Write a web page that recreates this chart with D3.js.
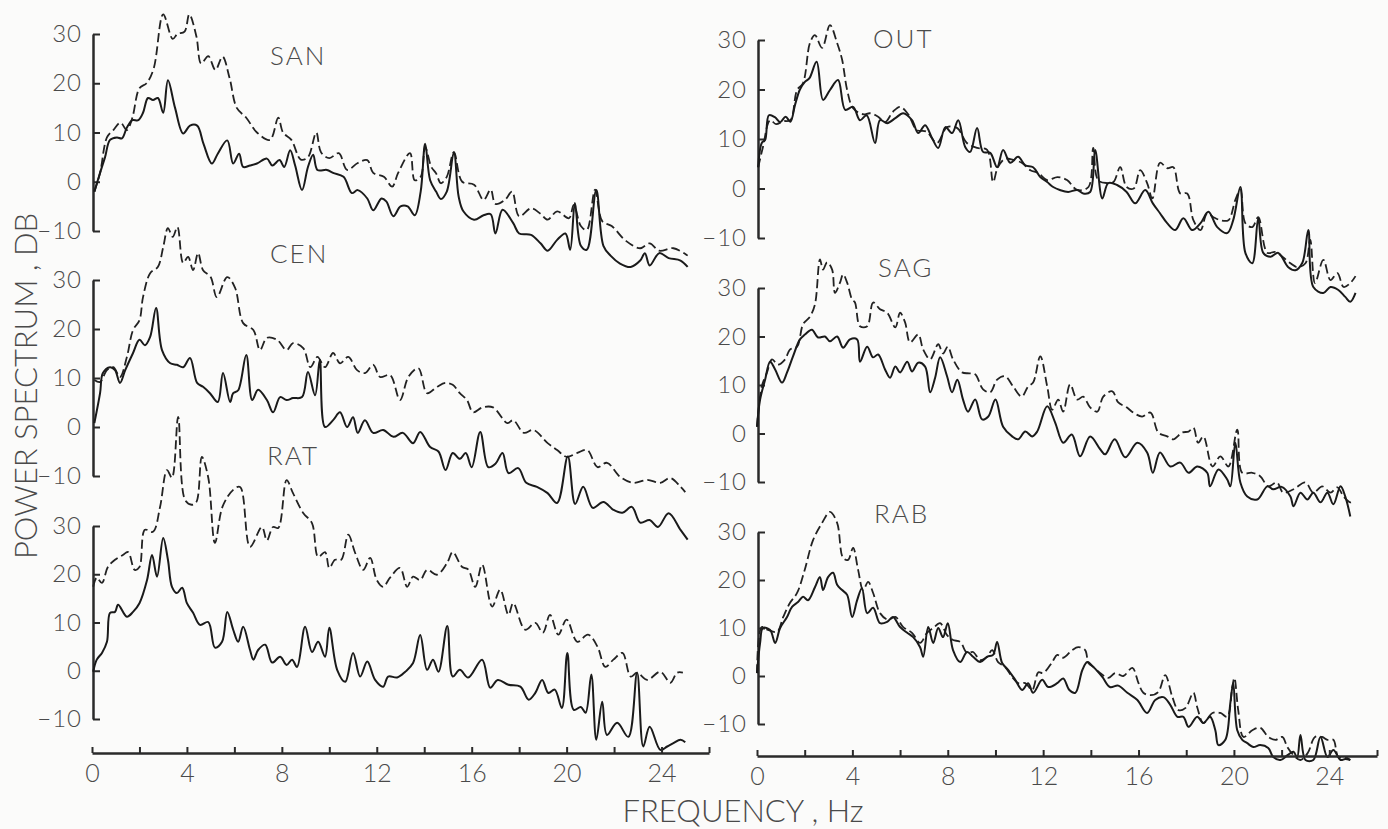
<!DOCTYPE html>
<html>
<head>
<meta charset="utf-8">
<script src="https://cdn.jsdelivr.net/npm/d3@7"></script>
<style>
body { margin: 0; background: #fbfbfa; }
svg text { font-family: Lato, "DejaVu Sans", sans-serif; font-weight: 300; fill: #4a4a4a; }
</style>
</head>
<body>
<svg width="1388" height="829"></svg>
<script>
// [frequency Hz, power dB]; solid = one condition, dashed = the other
var sanSolid = [[0.1,-2],[0.34,1.8],[0.55,5],[0.76,8.5],[1.05,9],[1.26,8.8],[1.47,11],[1.7,12.5],[1.95,12.5],[2.15,14],[2.36,17],[2.57,16.6],[2.78,17],[3.0,14],[3.2,20.6],[3.5,15],[3.84,9.8],[4.13,11.4],[4.43,11.4],[4.7,7.7],[5.05,3.7],[5.3,5.7],[5.7,8.4],[5.95,3.7],[6.2,5.7],[6.37,3],[6.66,3.3],[6.95,3.7],[7.37,4.7],[7.6,3.3],[7.9,4.4],[8.1,3],[8.35,6.4],[8.56,3.3],[8.85,-1.7],[9.1,3],[9.32,5.5],[9.5,2.4],[9.9,2.4],[10.16,1.8],[10.6,1],[10.95,-2.3],[11.2,-1.7],[11.6,-3.4],[11.85,-5.8],[12.2,-3.4],[12.4,-4],[12.7,-7],[13.0,-5],[13.3,-5],[13.6,-6.8],[13.85,-2],[14.04,7.7],[14.25,0.3],[14.5,-2],[14.7,-3.5],[14.95,-2],[15.25,6],[15.45,-3],[15.65,-6],[16.1,-7.7],[16.5,-6.8],[16.8,-6.6],[17.0,-10.5],[17.3,-5.7],[17.75,-8.4],[18.0,-10.5],[18.5,-10.8],[18.9,-12.5],[19.2,-14],[19.6,-11.8],[19.95,-10.5],[20.15,-13.8],[20.35,-4.3],[20.6,-13],[20.85,-13.8],[21.25,-1.7],[21.55,-13],[21.85,-15],[22.25,-16.6],[22.7,-17.3],[23.1,-16],[23.3,-14.5],[23.5,-17],[23.9,-14.5],[24.3,-15.5],[24.8,-16],[25.1,-17.3]];
var sanDash = [[0.1,-2],[0.34,1.8],[0.63,9],[0.9,10.5],[1.2,12],[1.47,10.5],[1.7,13],[2.0,19],[2.3,20],[2.6,23],[3.0,34],[3.4,29],[3.6,30],[3.9,30.5],[4.1,34],[4.4,29.5],[4.6,24],[4.9,25.5],[5.2,22.7],[5.5,25.4],[5.8,21],[6.1,15],[6.5,13],[6.95,10],[7.5,8.5],[7.85,13],[8.05,10],[8.4,8.5],[8.8,4.5],[9.1,5],[9.45,10],[9.65,6],[10.0,4.8],[10.4,5.8],[10.75,2.4],[11.2,3.8],[11.6,4.4],[11.85,1.8],[12.3,1],[12.65,-1],[12.9,1.8],[13.4,5.8],[13.6,0.3],[13.85,1],[14.04,7],[14.3,3],[14.5,1.7],[14.7,-0.3],[14.95,1],[15.25,6],[15.6,0],[16.1,-0.6],[16.5,-3.7],[16.8,-1.6],[17.0,-4.5],[17.4,-3.7],[17.7,-2],[18.0,-7],[18.5,-5.4],[18.9,-6.5],[19.2,-7.7],[19.6,-6],[20.1,-7.4],[20.3,-4.7],[20.6,-9],[20.85,-9.8],[21.2,-1.6],[21.5,-8],[21.9,-9],[22.5,-12],[23.1,-13.5],[23.5,-12.5],[23.9,-14],[24.5,-13.5],[25.1,-15]];

var cenSolid = [[0.1,0.8],[0.34,6.9],[0.46,11],[0.76,12.2],[0.97,11.6],[1.18,9],[1.4,11.6],[1.73,15.1],[2.0,17.8],[2.23,16.7],[2.45,18.4],[2.7,24.3],[2.95,15.7],[3.3,13],[3.58,12.7],[3.84,12.2],[4.13,14.1],[4.43,9],[4.68,8.2],[4.97,6.9],[5.3,5.1],[5.52,11],[5.82,5.1],[5.95,6.9],[6.16,7.5],[6.5,14.7],[6.75,5.5],[7.0,7.6],[7.37,5.5],[7.63,3],[7.93,6.1],[8.2,5.5],[8.47,5.9],[8.85,6.1],[9.1,11.2],[9.4,6.5],[9.6,13.7],[9.82,0],[10.16,1.4],[10.45,3],[10.75,0],[11.0,2],[11.2,-1.2],[11.5,1.4],[11.85,-1.2],[12.27,-0.6],[12.7,-2],[13.1,-1.2],[13.53,-3.3],[13.83,-1],[14.25,-4.1],[14.6,-5],[14.9,-8.8],[15.2,-5.3],[15.5,-6.5],[15.75,-5.3],[16.0,-8.2],[16.36,-1],[16.7,-8.2],[17.0,-7.5],[17.3,-5.3],[17.55,-9.4],[17.96,-8.4],[18.3,-11.4],[18.75,-12.2],[19.2,-13.5],[19.6,-15.5],[20.05,-6],[20.36,-15.7],[20.7,-12.2],[21.1,-16.5],[21.55,-15.3],[21.97,-16.9],[22.35,-17.5],[22.75,-16.3],[23.1,-19.5],[23.5,-19],[23.85,-20.4],[24.3,-17.6],[24.8,-21],[25.1,-23]];
var cenDash = [[0.1,9.6],[0.34,9.2],[0.63,11.6],[0.9,12.2],[1.18,10.2],[1.47,14.3],[1.73,19.8],[2.0,21.8],[2.15,26.5],[2.45,31.4],[2.78,32.7],[3.0,36.7],[3.2,40.6],[3.4,38.8],[3.6,40.8],[3.84,33.5],[4.05,34.7],[4.26,32],[4.47,35.5],[4.68,32],[5.0,30.6],[5.26,26.5],[5.7,30.6],[6.03,28.4],[6.37,21.2],[6.8,19.8],[7.08,15.7],[7.37,18.2],[7.8,17.8],[8.2,15.7],[8.47,17.1],[8.9,16.1],[9.2,12.2],[9.5,14.3],[9.82,12.2],[10.16,15.1],[10.45,13],[10.8,14.3],[11.17,11.6],[11.5,11],[11.85,12.7],[12.14,10.2],[12.56,10.6],[12.98,5.5],[13.33,10.2],[13.75,12],[14.12,6.9],[14.54,8.2],[14.9,9],[15.2,8.6],[15.5,6.9],[15.8,5.5],[16.06,3],[16.45,4],[16.9,4],[17.5,0.8],[17.75,1.4],[18.2,-1.2],[18.6,-0.6],[19.2,-3.3],[19.6,-4.7],[20.0,-6.1],[20.45,-5.3],[20.87,-4.7],[21.3,-8.2],[21.7,-7.3],[22.26,-10.2],[22.8,-11.4],[23.4,-10.8],[23.95,-11.4],[24.37,-10.4],[24.8,-12.2],[25.0,-13.3]];

var ratSolid = [[0.05,-0.2],[0.2,2.3],[0.42,3.7],[0.63,6],[0.76,12],[0.97,12.2],[1.1,13.7],[1.47,11.2],[1.73,12.2],[2.0,14],[2.32,18.8],[2.53,24],[2.74,19.5],[3.0,27.5],[3.2,23],[3.37,17.4],[3.58,16.1],[3.8,17.2],[4.0,14],[4.26,12],[4.55,9.5],[4.9,10.1],[5.18,4.8],[5.48,6],[5.7,12.2],[5.95,8.5],[6.16,6],[6.37,9.1],[6.66,4.3],[6.8,2.3],[7.0,4.3],[7.3,5.4],[7.59,1.7],[7.93,2.9],[8.2,1.2],[8.43,2.3],[8.64,0.8],[8.98,9.1],[9.27,3.9],[9.53,6],[9.82,2.9],[10.0,8.9],[10.33,0.2],[10.67,-2.3],[11.0,3.7],[11.3,-1.2],[11.6,1.9],[11.93,-1.9],[12.27,-3.3],[12.48,-1.2],[12.86,-1.4],[13.2,-0.2],[13.53,1.6],[13.83,7.4],[14.12,0.2],[14.37,2.3],[14.6,-0.2],[14.97,9.3],[15.2,-1.2],[15.5,0.2],[15.85,-1.4],[16.44,2.3],[16.78,-3.5],[17.1,-1.9],[17.55,-2.9],[18.05,-3.3],[18.4,-6],[18.68,-4.6],[18.97,-1.9],[19.23,-4.6],[19.5,-3.9],[19.8,-7.7],[20.03,3.7],[20.3,-8.1],[20.6,-7.5],[20.8,-8.7],[21.04,-0.8],[21.25,-14.3],[21.5,-6.4],[21.7,-13.3],[22.13,-10.8],[22.6,-13.7],[22.97,-0.4],[23.23,-15.7],[23.5,-11.6],[23.95,-16.4],[24.24,-15.7],[24.5,-15],[24.8,-14.3],[25.0,-14.8]];
var ratDash = [[0.05,17.4],[0.2,19.3],[0.42,18.2],[0.67,21.5],[0.97,23],[1.3,24],[1.52,24.6],[1.8,20.9],[2.0,21.5],[2.23,29.2],[2.57,28.8],[2.87,34],[3.16,41.6],[3.37,40],[3.63,52.6],[3.92,35.4],[4.2,34.4],[4.4,35],[4.63,44.3],[4.9,40],[5.18,26.5],[5.5,34],[5.95,37.5],[6.24,38.1],[6.66,25.7],[7.16,29.8],[7.37,27],[7.63,29.8],[7.85,29.6],[8.2,39.5],[8.47,36.8],[8.9,32.7],[9.27,30.6],[9.53,23.6],[9.82,24.6],[10.0,21.3],[10.24,23],[10.5,23],[10.8,28.2],[11.09,24.4],[11.43,20.9],[11.72,23.4],[12.0,18.8],[12.27,17.4],[12.56,19.3],[12.98,21.3],[13.28,17.4],[13.53,19.5],[13.83,18.8],[14.12,20.9],[14.54,19.9],[14.97,22.4],[15.2,24.6],[15.6,21.5],[15.85,21],[16.15,17.4],[16.44,22],[16.86,13.3],[17.2,16.8],[17.55,11.6],[17.75,14],[18.25,8.5],[18.68,9.9],[19.0,7.9],[19.3,11.6],[19.65,7.5],[20.0,10.6],[20.45,6],[20.9,7.5],[21.3,5],[21.63,0.8],[21.97,2.3],[22.35,3.7],[22.7,-1.2],[22.97,-0.4],[23.4,-1.9],[23.95,-0.2],[24.37,-2.5],[24.66,-0.4],[24.9,-0.4]];

var outSolid = [[0.05,4.3],[0.2,9.2],[0.34,9.8],[0.5,14.8],[0.75,14.4],[0.97,13.4],[1.2,14.5],[1.4,13.5],[1.6,17],[1.8,20],[2.0,21.5],[2.2,22.3],[2.5,25.6],[2.77,17.9],[3.06,19.9],[3.4,21.9],[3.7,15.9],[4.03,16.5],[4.32,13.8],[4.6,14.8],[4.95,9.2],[5.16,13.8],[5.46,13.2],[5.8,14.2],[6.13,15.2],[6.5,13.8],[6.76,11.2],[7.05,12.8],[7.34,10.2],[7.6,8.2],[7.9,12.4],[8.18,11.2],[8.44,13.8],[8.73,8.4],[8.94,7.4],[9.23,12.2],[9.48,7.4],[9.78,7.2],[10.07,4.3],[10.32,7.8],[10.62,5.2],[10.95,6.4],[11.25,4.7],[11.58,4.3],[11.88,2.3],[12.17,1.3],[12.42,0.3],[12.7,-0.3],[13.05,-0.7],[13.43,-0.3],[13.68,-1],[13.97,-0.7],[14.18,7.8],[14.48,-2],[14.73,1.1],[15.1,0.7],[15.5,-0.7],[15.86,-3],[16.28,-0.3],[16.6,-3],[16.9,-5],[17.2,-7],[17.54,-8.4],[17.88,-6],[18.25,-8.4],[18.6,-7],[18.93,-4.7],[19.3,-7.8],[19.72,-9],[19.97,-6.4],[20.27,0.3],[20.48,-13],[20.77,-15.1],[21.02,-6],[21.23,-13],[21.53,-13.8],[21.86,-13],[22.28,-15.9],[22.58,-16.5],[22.87,-15],[23.12,-8.4],[23.33,-19.9],[23.75,-21.1],[24.05,-19.9],[24.38,-20.5],[24.67,-21.9],[24.88,-22.9],[25.1,-21.1]];
var outDash = [[0.05,4.3],[0.25,8.4],[0.55,13.8],[0.8,13],[1.1,13.6],[1.4,13.8],[1.68,19.9],[1.93,21.3],[2.22,29.4],[2.43,31],[2.73,28.4],[3.06,33],[3.36,29.4],[3.57,26],[3.78,19.9],[4.03,16.2],[4.45,15],[4.74,15.2],[5.08,14.5],[5.37,13.4],[5.7,15.5],[6.0,16.5],[6.34,15],[6.7,11.8],[7.1,11.5],[7.55,9.2],[7.97,12.4],[8.4,12.2],[8.8,9.2],[9.23,8.2],[9.65,7.8],[9.9,1.3],[10.1,4.3],[10.4,6],[10.74,5.8],[11.1,5.2],[11.46,3.7],[11.8,3.1],[12.17,1.7],[12.6,2.3],[13.0,1.7],[13.43,-0.3],[13.9,0.3],[14.1,8.2],[14.3,1.7],[14.68,1.1],[14.95,1.3],[15.23,4.3],[15.5,0.3],[15.8,0],[16.07,3.7],[16.36,1.1],[16.58,-2],[16.9,5.2],[17.2,4.1],[17.46,4.3],[17.75,-1],[18.04,-1],[18.3,-6.4],[18.6,-8.4],[18.88,-5],[19.14,-5.8],[19.43,-6.4],[19.77,-6.4],[20.06,-2.3],[20.27,-0.3],[20.48,-7],[20.77,-7.8],[21.02,-5.8],[21.4,-13],[21.74,-12.8],[22.03,-13.8],[22.37,-15.1],[22.66,-15.9],[23.0,-15.1],[23.2,-10.4],[23.4,-19.1],[23.75,-14.4],[24.05,-18.5],[24.34,-17.1],[24.6,-19.9],[24.88,-19.1],[25.1,-17.7]];

var sagSolid = [[0,1.4],[0.13,7],[0.34,11.1],[0.55,14.8],[0.76,13.2],[1.05,10.5],[1.26,12.6],[1.51,15.9],[1.8,19.4],[2.01,20.4],[2.3,21.4],[2.56,19.8],[2.85,20],[3.06,19],[3.36,20],[3.61,17.7],[3.9,19.4],[4.2,19.4],[4.32,14.8],[4.62,17.9],[4.87,15.7],[5.08,16.3],[5.37,13.2],[5.58,11.5],[5.8,13.8],[6.0,12.6],[6.3,14.8],[6.5,12.8],[6.76,14.6],[7.05,13.8],[7.26,8.5],[7.47,11.5],[7.68,15.7],[7.97,11.8],[8.18,8.5],[8.4,11.1],[8.64,7],[8.85,4.5],[9.15,7],[9.44,2.9],[9.7,3.5],[10.0,7],[10.32,1.4],[10.7,-0.6],[10.95,-1.2],[11.25,0.4],[11.54,-0.6],[11.75,0.4],[12.17,5.6],[12.5,2.3],[12.84,-1.9],[13.2,-0.2],[13.55,-4.7],[13.97,-0.6],[14.4,-3.3],[14.6,-4.3],[15.0,-1.2],[15.44,-4.9],[15.95,-1.9],[16.36,-3.9],[16.6,-8.1],[16.9,-3.9],[17.33,-6.8],[17.75,-6],[18.1,-8.1],[18.46,-6.8],[18.88,-8.1],[19.0,-10.9],[19.35,-7.4],[19.72,-9.5],[19.85,-10.9],[20.06,-1.9],[20.27,-10.1],[20.56,-13],[20.98,-13.6],[21.4,-10.9],[21.65,-11.5],[22.0,-11],[22.37,-13],[22.5,-15],[22.79,-12.2],[23.08,-13.6],[23.33,-12.2],[23.63,-14.2],[23.92,-12.2],[24.17,-14.6],[24.47,-10.9],[24.67,-13],[24.88,-17.1]];
var sagDash = [[0,1.4],[0.2,9.7],[0.42,12.6],[0.63,15.3],[0.88,14.2],[1.18,15.3],[1.38,17.3],[1.68,17.9],[1.93,22.5],[2.22,24.1],[2.43,26.6],[2.64,35.9],[2.77,33.8],[2.94,35.3],[3.15,33.8],[3.27,29],[3.48,31.1],[3.61,32.8],[3.78,31.1],[3.99,27.6],[4.11,27],[4.32,22.1],[4.62,22.1],[4.87,27],[5.16,25.6],[5.46,24.9],[5.8,21.9],[6.0,24.9],[6.21,22.9],[6.42,18.8],[6.76,20.4],[6.97,17.3],[7.26,15.3],[7.6,18.4],[7.8,16.5],[8.0,17.9],[8.22,15.3],[8.6,12.6],[8.9,12.4],[9.15,12.2],[9.48,9.1],[9.78,8.5],[10.07,11.1],[10.4,11.8],[10.74,9.7],[11.1,7.6],[11.37,9.7],[11.58,10.5],[11.88,15.9],[12.17,9.7],[12.38,4.9],[12.63,7],[12.84,4.5],[13.13,10.1],[13.43,7],[13.68,7.6],[13.97,5.4],[14.27,4.5],[14.52,7.6],[14.9,8.7],[15.15,6.4],[15.5,5.4],[15.78,4.3],[16.15,3.5],[16.5,4.3],[16.83,0.2],[17.2,-0.6],[17.46,-1.2],[17.83,0.2],[18.1,0.4],[18.3,1.2],[18.5,-1.9],[18.72,-0.6],[19.1,-6.8],[19.43,-4.7],[19.77,-6.8],[20.14,0.8],[20.35,-8.1],[20.77,-8.1],[21.1,-8.8],[21.44,-10.9],[21.8,-10.1],[22.07,-12.2],[22.5,-11.5],[23.0,-10.1],[23.33,-12.2],[23.7,-10.9],[24.05,-12.2],[24.34,-11.1],[24.6,-13],[24.88,-14.2],[25.0,-14]];

var rabSolid = [[0,0.6],[0.13,6.9],[0.25,10],[0.55,9.6],[0.76,6.9],[0.97,10],[1.26,12.3],[1.47,14.4],[1.72,15.4],[1.93,16.5],[2.14,15.8],[2.43,18.5],[2.64,20.6],[2.77,17.9],[2.98,20.6],[3.19,21.5],[3.36,19],[3.57,17.9],[3.78,16.9],[3.99,12.3],[4.2,15.8],[4.4,18.3],[4.62,13.1],[4.87,14.2],[5.16,11],[5.46,11.3],[5.7,12.3],[6.0,10.2],[6.3,9],[6.55,8.1],[6.84,6],[6.97,4],[7.18,10.2],[7.39,6.9],[7.6,10],[7.8,8.1],[8.0,11],[8.22,5.4],[8.52,2.9],[8.81,5],[9.06,4],[9.36,2.9],[9.65,4],[9.9,4.4],[10.07,7.1],[10.28,2.7],[10.53,1.3],[10.83,-0.8],[11.12,-2.9],[11.37,-1.5],[11.58,-3.5],[11.96,-0.8],[12.21,-2.3],[12.59,-1.5],[12.84,-0.5],[13.1,-2.9],[13.35,-3.5],[13.64,1.2],[13.85,2.9],[14.1,1.9],[14.48,-0.2],[14.8,-2.3],[15.15,-2],[15.53,-3.5],[15.95,-5],[16.36,-7.7],[16.7,-5],[17.04,-4.4],[17.33,-6],[17.63,-8.5],[17.88,-8.5],[18.1,-10.6],[18.46,-8.5],[18.72,-9.8],[19.0,-8.5],[19.22,-11.3],[19.35,-14.4],[19.64,-13.3],[19.85,-5.6],[19.97,-1.5],[20.14,-11.3],[20.35,-13.3],[20.56,-14],[20.81,-14.8],[21.1,-14.4],[21.44,-15],[21.65,-16.9],[21.95,-17.5],[22.25,-16.5],[22.5,-15.8],[22.65,-17],[22.79,-12.3],[23.0,-17.5],[23.33,-17.5],[23.63,-12.7],[23.92,-16.9],[24.17,-15.4],[24.47,-17.5],[24.67,-17.3],[24.88,-17.5]];
var rabDash = [[0,0.6],[0.2,10.2],[0.46,9.6],[0.84,9.2],[1.1,12.3],[1.38,15.2],[1.68,17.3],[2.0,22.1],[2.35,28.3],[2.73,31.9],[3.06,34.2],[3.36,31.9],[3.61,24.6],[3.82,24.2],[4.03,26.7],[4.24,22.1],[4.45,17.9],[4.66,19.6],[4.87,17.3],[5.16,13.1],[5.5,11.7],[5.8,12.3],[6.13,10.2],[6.5,9],[6.84,6.9],[7.13,9],[7.39,10],[7.68,11],[7.97,8.5],[8.22,7.5],[8.52,7.1],[8.81,4.8],[9.06,5],[9.36,3.3],[9.65,4],[9.86,5.4],[10.11,2.9],[10.4,1.9],[10.7,-0.2],[10.95,-1.5],[11.25,-1.5],[11.54,-2.9],[11.8,0.8],[12.0,0.6],[12.38,2.9],[12.59,4.4],[12.84,3.8],[13.22,5.4],[13.47,6],[13.76,5.4],[13.9,2.7],[14.1,1.9],[14.4,0.6],[14.73,-0.4],[15.02,0.6],[15.36,0],[15.74,1.7],[16.0,-1.5],[16.2,-3.5],[16.5,-4],[16.83,-3.3],[17.12,0.2],[17.42,-4.4],[17.67,-7.1],[17.96,-6.7],[18.3,-3.5],[18.46,-6.5],[18.72,-9.8],[19.1,-7.7],[19.43,-7.7],[19.72,-8.5],[19.93,-2.3],[20.02,-0.4],[20.18,-7.1],[20.4,-12.7],[20.77,-11.3],[21.1,-10.8],[21.44,-12.7],[21.74,-13.3],[22.03,-12.7],[22.24,-14.8],[22.5,-16.5],[22.79,-17.5],[23.1,-16],[23.4,-12.7],[23.7,-12.7],[23.92,-13.3],[24.17,-13.3],[24.38,-16.9],[24.67,-16.9],[24.88,-17.5]];

var yTicks = [-10, 0, 10, 20, 30];
var xTicks = [0, 2, 4, 6, 8, 10, 12, 14, 16, 18, 20, 22, 24, 26];
var xLabels = [0, 4, 8, 12, 16, 20, 24];

var svg = d3.select("svg");

// two columns, each with its own frequency scale
var xLeft = d3.scaleLinear().domain([0, 26]).range([92, 709]);
var xRight = d3.scaleLinear().domain([0, 26]).range([757, 1377]);

var panels = [
  {name: "SAN", solid: sanSolid, dash: sanDash, x: xLeft,  yr: [231, 34],   ax: 93,  tx: 270, ty: 65},
  {name: "CEN", solid: cenSolid, dash: cenDash, x: xLeft,  yr: [476, 280],  ax: 93,  tx: 270, ty: 263},
  {name: "RAT", solid: ratSolid, dash: ratDash, x: xLeft,  yr: [719, 526],  ax: 93,  tx: 267, ty: 465},
  {name: "OUT", solid: outSolid, dash: outDash, x: xRight, yr: [238, 40],   ax: 758, tx: 873, ty: 48},
  {name: "SAG", solid: sagSolid, dash: sagDash, x: xRight, yr: [482, 288],  ax: 758, tx: 878, ty: 277},
  {name: "RAB", solid: rabSolid, dash: rabDash, x: xRight, yr: [724, 532],  ax: 758, tx: 874, ty: 523}
];

panels.forEach(function(p) {
  var y = d3.scaleLinear().domain([-10, 30]).range(p.yr);

  var g = svg.append("g")
      .attr("transform", "translate(" + p.ax + ",0)")
      .call(d3.axisLeft(y).tickValues(yTicks).tickSizeInner(-7).tickSizeOuter(0).tickPadding(11));
  g.select(".domain").attr("stroke", "#2a2a2a").attr("stroke-width", 2.5);
  g.selectAll(".tick line").attr("stroke", "#2a2a2a").attr("stroke-width", 2);
  g.selectAll(".tick text").attr("font-size", 24).attr("font-family", null).style("letter-spacing", "1px");

  var line = d3.line()
      .x(function(d) { return p.x(d[0]); })
      .y(function(d) { return y(d[1]); })
      .curve(d3.curveCatmullRom.alpha(0.5));

  svg.append("path")
      .datum(p.dash.slice().sort(function(a, b) { return a[0] - b[0]; }))
      .attr("fill", "none")
      .attr("stroke", "#222")
      .attr("stroke-width", 1.8)
      .attr("stroke-dasharray", "9,4")
      .attr("d", line);

  svg.append("path")
      .datum(p.solid.slice().sort(function(a, b) { return a[0] - b[0]; }))
      .attr("fill", "none")
      .attr("stroke", "#1a1a1a")
      .attr("stroke-width", 2)
      .attr("d", line);

  svg.append("text")
      .attr("x", p.tx)
      .attr("y", p.ty)
      .attr("font-size", 26)
      .style("letter-spacing", "2px")
      .text(p.name);
});

// frequency axes under each column
[[xLeft, 753], [xRight, 756]].forEach(function(a) {
  var g = svg.append("g")
      .attr("transform", "translate(0," + a[1] + ")")
      .call(d3.axisBottom(a[0]).tickValues(xTicks).tickSizeInner(-6).tickSizeOuter(0).tickPadding(11)
        .tickFormat(function(d) { return xLabels.indexOf(d) >= 0 ? d : ""; }));
  g.select(".domain").attr("stroke", "#2a2a2a").attr("stroke-width", 2.5);
  g.selectAll(".tick line").attr("stroke", "#2a2a2a").attr("stroke-width", 2);
  g.selectAll(".tick text").attr("font-size", 25).attr("font-family", null);
});

svg.append("text")
    .attr("transform", "translate(37,386) rotate(-90)")
    .attr("text-anchor", "middle")
    .attr("font-size", 31)
    .text("POWER  SPECTRUM , DB");

svg.append("text")
    .attr("x", 743)
    .attr("y", 822)
    .attr("text-anchor", "middle")
    .attr("font-size", 31)
    .text("FREQUENCY , Hz");
</script>
</body>
</html>
